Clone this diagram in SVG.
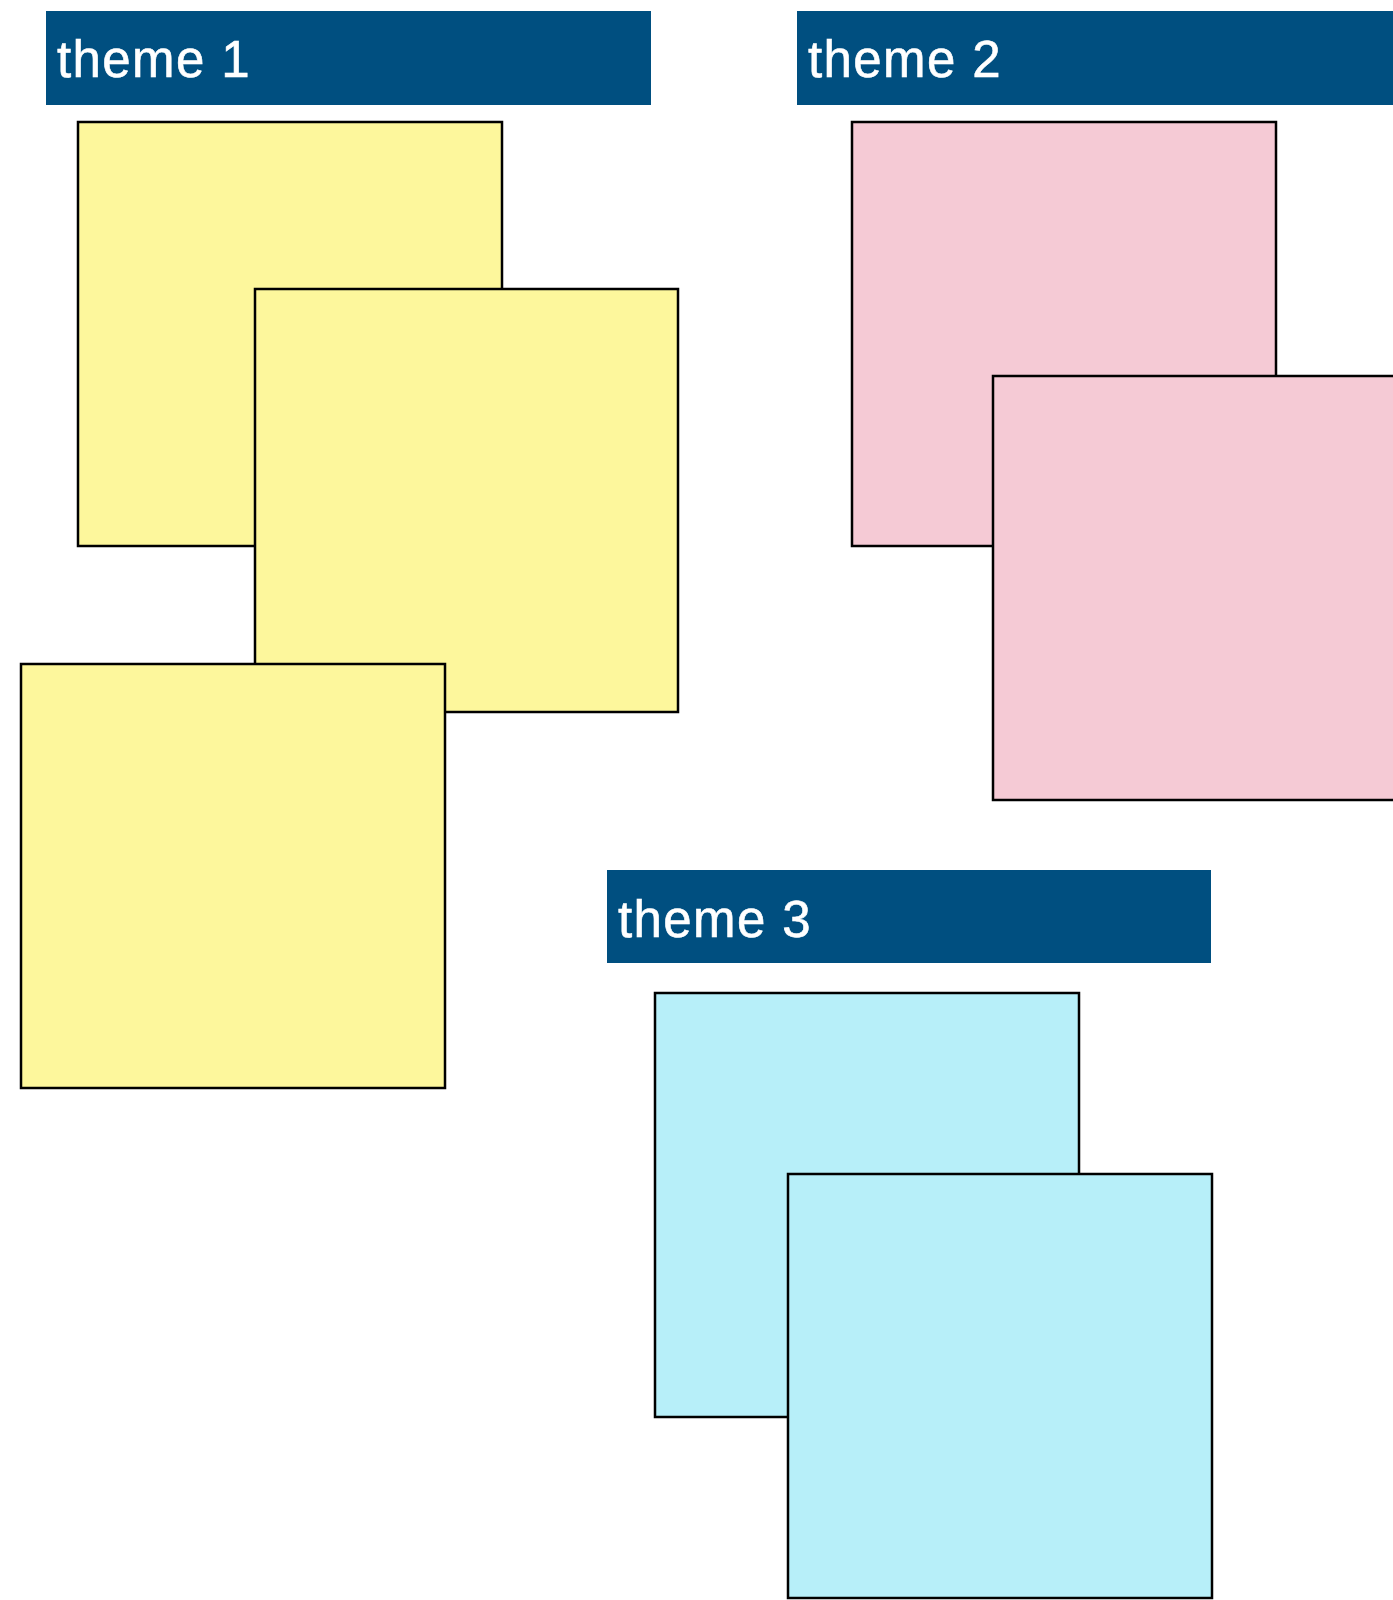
<svg xmlns="http://www.w3.org/2000/svg" width="1393" height="1600" viewBox="0 0 1393 1600">
<style>
.hdr{fill:#004f80}
.ht{fill:#ffffff;stroke:#ffffff;stroke-width:0.6;font-family:"Liberation Sans",Arial,sans-serif;font-size:51px;letter-spacing:1.4px}
.note{stroke:#000;stroke-width:2.5}
.y{fill:#fdf79c}
.p{fill:#f5cad5}
.c{fill:#b7eff9}
</style>
<rect width="1393" height="1600" fill="#ffffff"/>
<g id="theme1">
<rect class="hdr" x="46" y="11" width="605" height="94"/>
<text class="ht" x="57" y="77">theme 1</text>
</g>
<g id="theme2">
<rect class="hdr" x="797" y="11" width="596" height="94"/>
<text class="ht" x="808" y="77">theme 2</text>
</g>
<g id="theme3">
<rect class="hdr" x="607" y="870" width="604" height="93"/>
<text class="ht" x="618" y="937">theme 3</text>
</g>
<g id="y1"><rect class="note y" x="78" y="122" width="424" height="424"/></g>
<g id="y2"><rect class="note y" x="255" y="289" width="423" height="423"/></g>
<g id="y3"><rect class="note y" x="21" y="664" width="424" height="424"/></g>
<g id="p1"><rect class="note p" x="852" y="122" width="424" height="424"/></g>
<g id="p2"><rect class="note p" x="993" y="376" width="424" height="424"/></g>
<g id="c1"><rect class="note c" x="655" y="993" width="424" height="424"/></g>
<g id="c2"><rect class="note c" x="788" y="1174" width="424" height="424"/></g>
<g id="connectors"></g>
</svg>
